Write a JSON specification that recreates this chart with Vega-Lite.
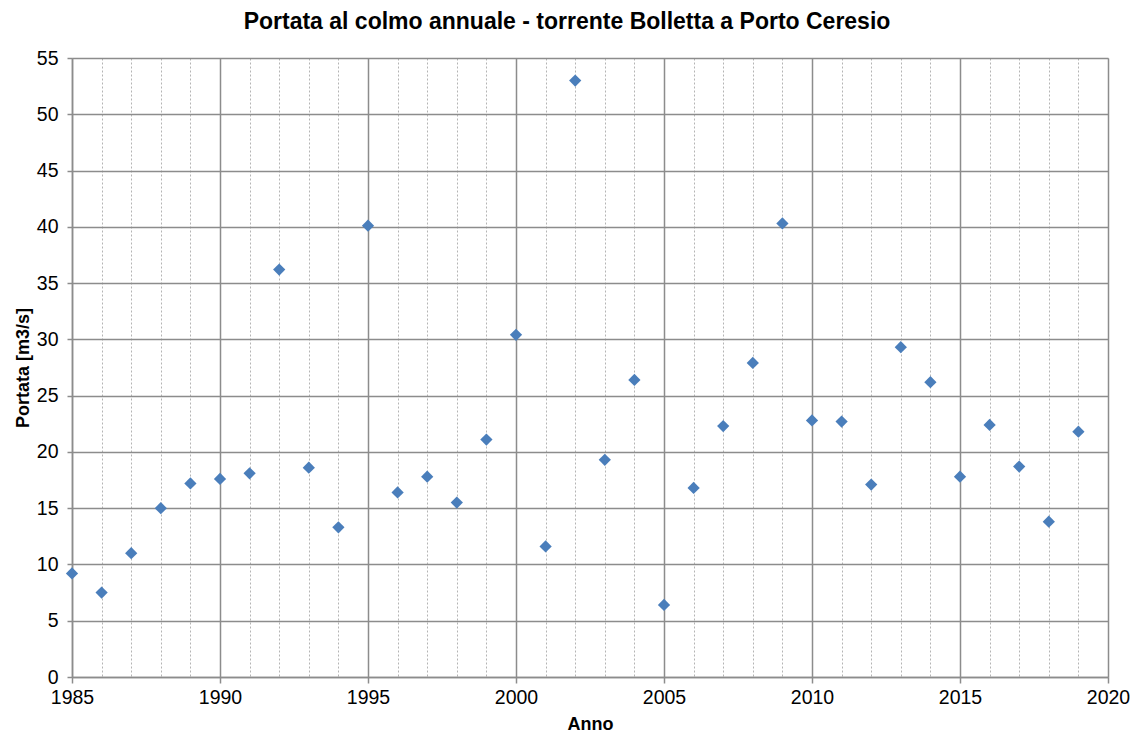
{
  "$schema": "https://vega.github.io/schema/vega-lite/v6.json",
  "width": 1036,
  "height": 619,
  "autosize": {"type": "none"},
  "padding": {"left": 72, "top": 58, "right": 22, "bottom": 56},
  "background": "white",
  "config": {
    "view": {"stroke": null},
    "font": "Liberation Sans",
    "axis": {"labelFont": "Liberation Sans", "titleFont": "Liberation Sans"}
  },
  "title": {
    "text": "Portata al colmo annuale - torrente Bolletta a Porto Ceresio",
    "font": "Liberation Sans",
    "fontSize": 23,
    "fontWeight": "bold",
    "color": "#000000",
    "anchor": "middle",
    "offset": 14,
    "dx": -23
  },
  "data": {
    "values": [
      {"Anno": 1985, "Portata": 9.2},
      {"Anno": 1986, "Portata": 7.5},
      {"Anno": 1987, "Portata": 11.0},
      {"Anno": 1988, "Portata": 15.0},
      {"Anno": 1989, "Portata": 17.2},
      {"Anno": 1990, "Portata": 17.6},
      {"Anno": 1991, "Portata": 18.1},
      {"Anno": 1992, "Portata": 36.2},
      {"Anno": 1993, "Portata": 18.6},
      {"Anno": 1994, "Portata": 13.3},
      {"Anno": 1995, "Portata": 40.1},
      {"Anno": 1996, "Portata": 16.4},
      {"Anno": 1997, "Portata": 17.8},
      {"Anno": 1998, "Portata": 15.5},
      {"Anno": 1999, "Portata": 21.1},
      {"Anno": 2000, "Portata": 30.4},
      {"Anno": 2001, "Portata": 11.6},
      {"Anno": 2002, "Portata": 53.0},
      {"Anno": 2003, "Portata": 19.3},
      {"Anno": 2004, "Portata": 26.4},
      {"Anno": 2005, "Portata": 6.4},
      {"Anno": 2006, "Portata": 16.8},
      {"Anno": 2007, "Portata": 22.3},
      {"Anno": 2008, "Portata": 27.9},
      {"Anno": 2009, "Portata": 40.3},
      {"Anno": 2010, "Portata": 22.8},
      {"Anno": 2011, "Portata": 22.7},
      {"Anno": 2012, "Portata": 17.1},
      {"Anno": 2013, "Portata": 29.3},
      {"Anno": 2014, "Portata": 26.2},
      {"Anno": 2015, "Portata": 17.8},
      {"Anno": 2016, "Portata": 22.4},
      {"Anno": 2017, "Portata": 18.7},
      {"Anno": 2018, "Portata": 13.8},
      {"Anno": 2019, "Portata": 21.8}
    ]
  },
  "layer": [
    {
      "mark": {"type": "point", "shape": "diamond", "filled": true, "opacity": 0},
      "encoding": {
        "x": {
          "field": "Anno", "type": "quantitative",
          "scale": {"domain": [1985, 2020], "nice": false, "zero": false},
          "axis": {
            "orient": "bottom",
            "values": [1985,1986,1987,1988,1989,1990,1991,1992,1993,1994,1995,1996,1997,1998,1999,2000,2001,2002,2003,2004,2005,2006,2007,2008,2009,2010,2011,2012,2013,2014,2015,2016,2017,2018,2019,2020],
            "grid": true, "gridColor": "#b4b4b4", "gridDash": [2, 2], "gridWidth": 1,
            "labels": false, "ticks": false, "domain": false, "title": null
          }
        },
        "y": {
          "field": "Portata", "type": "quantitative",
          "scale": {"domain": [0, 55], "nice": false},
          "axis": {
            "values": [0,5,10,15,20,25,30,35,40,45,50,55],
            "grid": true, "gridColor": "#8c8c8c", "gridWidth": 1.5,
            "domain": true, "domainColor": "#8c8c8c", "domainWidth": 1.5,
            "ticks": true, "tickColor": "#8c8c8c", "tickSize": 5, "tickWidth": 1.5,
            "labelFontSize": 19.5, "labelColor": "#000000", "labelPadding": 9,
            "title": "Portata [m3/s]", "titleFontSize": 18, "titleFontWeight": "bold",
            "titleColor": "#000000", "titlePadding": 4
          }
        }
      }
    },
    {
      "mark": {"type": "point", "shape": "diamond", "filled": true, "opacity": 1, "color": "#4a7ebb", "size": 150},
      "encoding": {
        "x": {
          "field": "Anno", "type": "quantitative",
          "scale": {"domain": [1985, 2020], "nice": false, "zero": false},
          "axis": {
            "orient": "bottom",
            "values": [1985,1990,1995,2000,2005,2010,2015,2020],
            "format": "d",
            "grid": true, "gridColor": "#8c8c8c", "gridWidth": 1.5,
            "domain": true, "domainColor": "#8c8c8c", "domainWidth": 1.5,
            "ticks": true, "tickColor": "#8c8c8c", "tickSize": 6, "tickWidth": 1.5,
            "labelFontSize": 19.5, "labelColor": "#000000", "labelPadding": 5,
            "labelFlush": false, "labelOverlap": false,
            "title": "Anno", "titleFontSize": 18, "titleFontWeight": "bold",
            "titleColor": "#000000", "titlePadding": 9
          }
        },
        "y": {
          "field": "Portata", "type": "quantitative",
          "scale": {"domain": [0, 55], "nice": false},
          "axis": {
            "values": [0,5,10,15,20,25,30,35,40,45,50,55],
            "grid": true, "gridColor": "#8c8c8c", "gridWidth": 1.5,
            "domain": true, "domainColor": "#8c8c8c", "domainWidth": 1.5,
            "ticks": true, "tickColor": "#8c8c8c", "tickSize": 5, "tickWidth": 1.5,
            "labelFontSize": 19.5, "labelColor": "#000000", "labelPadding": 9,
            "title": "Portata [m3/s]", "titleFontSize": 18, "titleFontWeight": "bold",
            "titleColor": "#000000", "titlePadding": 4
          }
        }
      }
    }
  ],
  "resolve": {"axis": {"x": "independent"}}
}
